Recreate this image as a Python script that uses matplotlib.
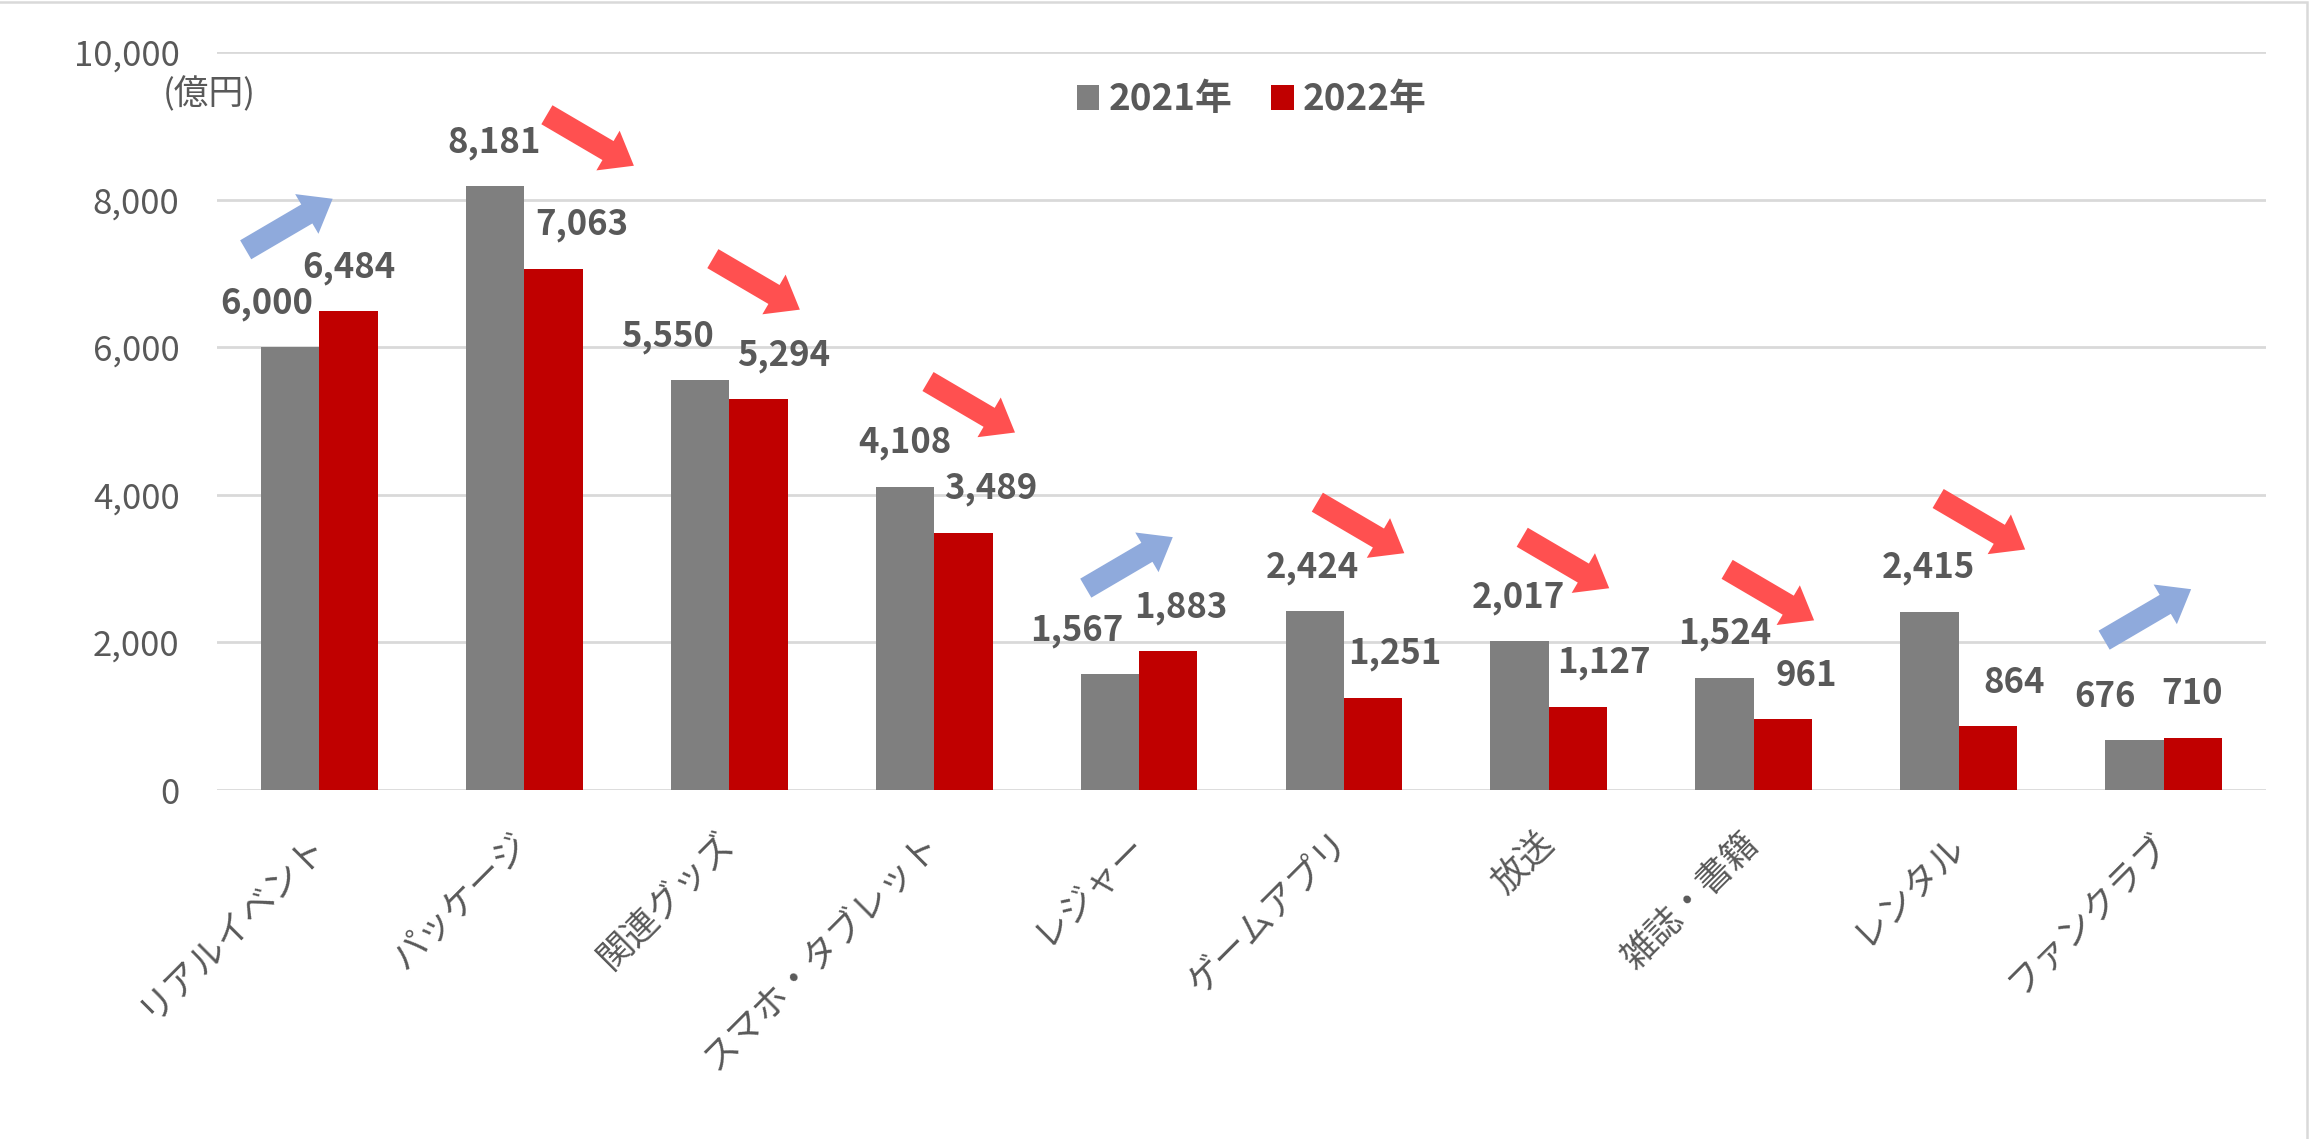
import numpy as np
import matplotlib.pyplot as plt
import matplotlib.transforms as mtransforms
from matplotlib.patches import FancyArrow, Rectangle

plt.rcParams['font.family'] = ['Noto Sans CJK JP', 'DejaVu Sans']

# data
categories = ['リアルイベント', 'パッケージ', '関連グッズ', 'スマホ・タブレット', 'レジャー',
              'ゲームアプリ', '放送', '雑誌・書籍', 'レンタル', 'ファンクラブ']
sales_2021 = [6000, 8181, 5550, 4108, 1567, 2424, 2017, 1524, 2415, 676]
sales_2022 = [6484, 7063, 5294, 3489, 1883, 1251, 1127, 961, 864, 710]
series_names = ['2021年', '2022年']
y_ticks = [0, 2000, 4000, 6000, 8000, 10000]
unit_label = '(億円)'

# hand placed things in the original (pixels / data units)
nudge_2021 = [-24, -1, -33, 0, -33, -2, -1, 0, -1, -29]
nudge_2022 = [0, 28, 25, 27, 13, 22, 26, 23, 26, -1]
arrow_tails = [(-0.36, 7320), (1.11, 9150), (1.92, 7200), (2.97, 5535), (3.74, 2735),
               (4.87, 3900), (5.87, 3425), (6.87, 2990), (7.90, 3950), (8.71, 2030)]

TXT = '#595959'
GRAY = '#7F7F7F'
RED = '#C00000'
UP = '#8FAADC'
DOWN = '#FF5050'

W, H = 2318, 1139
fig = plt.figure(figsize=(W / 100, H / 100), dpi=100, facecolor='white')
ax = fig.add_axes([217 / W, 1 - 790 / H, 2049 / W, 738 / H])

x = np.arange(len(categories))
w = 0.285
ax.bar(x - w / 2, sales_2021, w, color=GRAY, label=series_names[0])
ax.bar(x + w / 2, sales_2022, w, color=RED, label=series_names[1])

ax.set_xlim(-0.5, len(categories) - 0.5)
ax.set_ylim(0, 10000)
ax.set_yticks(y_ticks, [f'{t:,}' for t in y_ticks])
ax.set_xticks(x, categories, rotation=45, ha='right', va='top', rotation_mode='anchor')
ax.tick_params(length=0)
ax.tick_params(axis='y', labelsize=25, labelcolor=TXT, pad=27)
ax.tick_params(axis='x', labelsize=25.5, labelcolor=TXT, pad=26)
shift = mtransforms.Affine2D().translate(-13, 0)
for lab in ax.get_xticklabels():
    lab.set_transform(lab.get_transform() + shift)
ax.yaxis.grid(True, color='#D9D9D9', lw=2)
ax.set_axisbelow(True)
for spine in ('top', 'right', 'bottom', 'left'):
    ax.spines[spine].set_visible(False)

# value labels
for i in range(len(categories)):
    ax.annotate(f'{sales_2021[i]:,}', (x[i] - w / 2, sales_2021[i]), xytext=(nudge_2021[i], 44),
                textcoords='offset pixels', ha='center', va='center',
                fontsize=25, fontweight='bold', color=TXT)
    ax.annotate(f'{sales_2022[i]:,}', (x[i] + w / 2, sales_2022[i]), xytext=(nudge_2022[i], 44),
                textcoords='offset pixels', ha='center', va='center',
                fontsize=25, fontweight='bold', color=TXT)

# trend arrows
for i, (tx, ty) in enumerate(arrow_tails):
    up = sales_2022[i] > sales_2021[i]
    trans = mtransforms.Affine2D() + mtransforms.ScaledTranslation(tx, ty, ax.transData)
    arr = FancyArrow(0, 0, 87, 51 if up else -51, width=22, head_width=46, head_length=30,
                     length_includes_head=True, color=UP if up else DOWN, lw=0,
                     transform=trans, clip_on=False)
    fig.add_artist(arr)

leg = ax.legend(loc='center', bbox_to_anchor=(0.505, 0.935), ncol=2, frameon=False,
                prop={'size': 26.5, 'weight': 'bold'}, handlelength=0.62, handleheight=0.68,
                handletextpad=0.25, columnspacing=1.05, labelcolor=TXT)

ax.text(-0.004, 0.943, unit_label, transform=ax.transAxes, ha='center', va='center',
        fontsize=25, color=TXT)

# chart border
fig.add_artist(Rectangle((-0.01, -0.01), 2307 / W + 0.01, 1 - 1.5 / H + 0.01,
                         transform=fig.transFigure, fill=False, ec='#D9D9D9', lw=1.8))

fig.savefig('out.png', dpi=100, facecolor='white')
